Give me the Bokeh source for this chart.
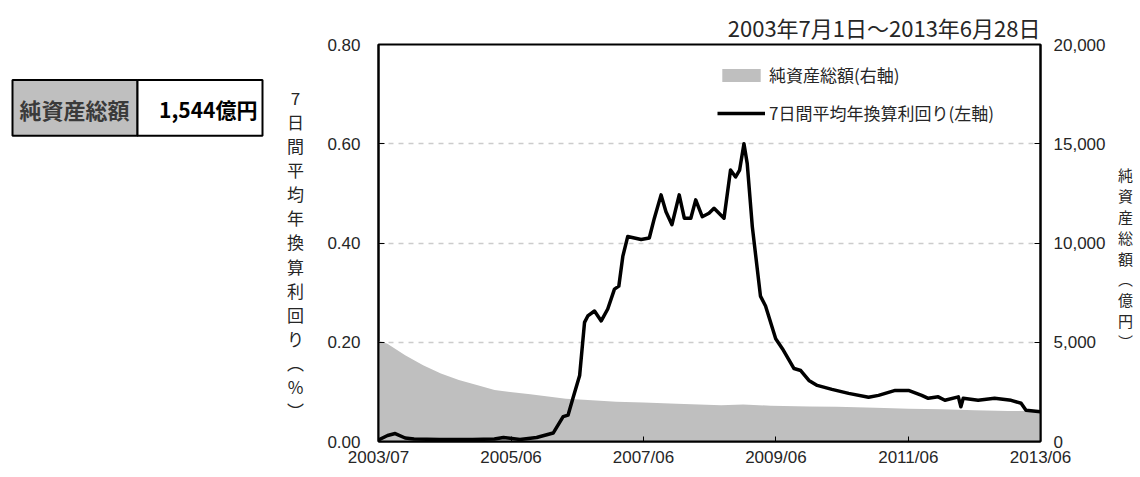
import pandas as pd
from bokeh.plotting import figure
from bokeh.models import Range1d, LinearAxis, FixedTicker, NumeralTickFormatter
from bokeh.layouts import row
from bokeh.core.properties import value
from bokeh.embed import file_html
from bokeh.resources import INLINE

# ---------------- data ----------------
title_text = "2003年7月1日～2013年6月28日"
box_label = "純資産総額"
box_value = "1,544億円"
left_axis_chars = ["7", "日", "間", "平", "均", "年", "換", "算", "利", "回", "り", "︵", "%", "︶"]
right_axis_chars = ["純", "資", "産", "総", "額", "︵", "億", "円", "︶"]
legend_assets = "純資産総額(右軸)"
legend_yield = "7日間平均年換算利回り(左軸)"

yield_dates = [
    "2003-07-01", "2003-08-20", "2003-10-01", "2003-11-25", "2004-01-13", "2004-06-01",
    "2004-12-01", "2005-03-31", "2005-05-20", "2005-08-19", "2005-11-19", "2006-02-18",
    "2006-04-14", "2006-05-11", "2006-06-07", "2006-07-14", "2006-08-10", "2006-08-28",
    "2006-10-04", "2006-11-10", "2006-12-16", "2007-01-22", "2007-02-15", "2007-03-09",
    "2007-04-05", "2007-05-12", "2007-06-18", "2007-08-02", "2007-08-30", "2007-10-06",
    "2007-11-02", "2007-12-05", "2008-01-14", "2008-02-11", "2008-03-18", "2008-04-14",
    "2008-05-20", "2008-06-26", "2008-07-24", "2008-09-17", "2008-10-23", "2008-11-20",
    "2008-12-12", "2009-01-05", "2009-01-23", "2009-02-20", "2009-04-06", "2009-05-04",
    "2009-06-29", "2009-08-05", "2009-10-08", "2009-11-14", "2009-12-29", "2010-02-13",
    "2010-05-05", "2010-08-05", "2010-11-23", "2011-01-17", "2011-04-19", "2011-07-01",
    "2011-09-12", "2011-10-18", "2011-12-12", "2012-01-18", "2012-04-01", "2012-04-15",
    "2012-04-28", "2012-07-19", "2012-10-18", "2013-01-17", "2013-03-13", "2013-04-09",
    "2013-06-28",
]
yield_values = [
    0.003, 0.012, 0.016, 0.007, 0.005, 0.004,
    0.004, 0.005, 0.008, 0.004, 0.008, 0.017,
    0.050, 0.053, 0.087, 0.133, 0.240, 0.253,
    0.263, 0.243, 0.267, 0.307, 0.313, 0.373,
    0.413, 0.410, 0.407, 0.410, 0.450, 0.497,
    0.463, 0.437, 0.497, 0.450, 0.450, 0.487,
    0.453, 0.460, 0.470, 0.450, 0.547, 0.533,
    0.547, 0.600, 0.560, 0.433, 0.293, 0.273,
    0.207, 0.187, 0.147, 0.143, 0.123, 0.113,
    0.105, 0.097, 0.089, 0.093, 0.103, 0.103,
    0.093, 0.087, 0.090, 0.083, 0.090, 0.070,
    0.087, 0.083, 0.087, 0.083, 0.077, 0.063,
    0.060,
]

asset_dates = [
    "2003-07-01", "2003-08-19", "2003-11-25", "2004-03-03", "2004-06-09", "2004-09-16",
    "2004-12-24", "2005-04-01", "2005-07-08", "2005-10-15", "2006-01-21", "2006-04-29",
    "2006-08-05", "2007-02-01", "2007-07-01", "2008-01-01", "2008-09-01", "2009-01-01",
    "2009-06-01", "2010-01-01", "2010-06-01", "2011-01-01", "2011-07-01", "2012-01-01",
    "2012-07-01", "2013-01-01", "2013-06-28",
]
asset_values = [
    5080, 4920, 4340, 3840, 3430, 3100,
    2850, 2600, 2480, 2380, 2270, 2150,
    2100, 2000, 1960, 1900, 1830, 1870,
    1800, 1760, 1750, 1700, 1650, 1620,
    1580, 1540, 1544,
]

x_start = "2003-07-01"
x_end = "2013-06-28"
x_tick_dates = ["2003-07-01", "2005-07-01", "2007-07-01", "2009-06-30", "2011-06-30", "2013-06-28"]
x_tick_labels = ["2003/07", "2005/06", "2007/06", "2009/06", "2011/06", "2013/06"]
left_ticks = [0.0, 0.2, 0.4, 0.6, 0.8]
right_ticks = [0, 5000, 10000, 15000, 20000]
grid_ticks = [0.2, 0.4, 0.6]

# ---------------- style ----------------
JP = "Noto Sans CJK JP"
NUM = "Liberation Sans"
AREA_COLOR = "#bfbfbf"
TXT = "#262626"
H = 470


def ms(d):
    return float(pd.Timestamp(d).value // 10**6)


yx = pd.to_datetime(yield_dates)
ax_ = pd.to_datetime(asset_dates)

# ---------------- main chart ----------------
p = figure(width=800, height=H, x_axis_type="datetime",
           x_range=Range1d(ms(x_start), ms(x_end)), y_range=Range1d(0, 0.8),
           output_backend="svg", toolbar_location=None,
           min_border_left=70, min_border_right=65, min_border_top=44, min_border_bottom=29)
p.extra_y_ranges = {"assets": Range1d(0, 20000)}
p.background_fill_color = "white"
p.border_fill_color = "white"
p.outline_line_color = "black"
p.outline_line_width = 2

p.varea(x=ax_, y1=0, y2=asset_values, y_range_name="assets",
        fill_color=AREA_COLOR, legend_label=legend_assets)
p.line(x=yx, y=yield_values, line_color="black", line_width=3.5,
       line_join="round", legend_label=legend_yield)

p.title.text = title_text
p.title.align = "right"
p.title.text_font = JP
p.title.text_font_size = "22px"
p.title.text_font_style = "normal"
p.title.text_color = TXT
p.title.standoff = 4

p.xgrid.visible = False
p.ygrid.ticker = FixedTicker(ticks=grid_ticks)
p.ygrid.grid_line_color = "#cccccc"
p.ygrid.grid_line_dash = "5 5"
p.ygrid.grid_line_width = 1.5

xa = p.xaxis[0]
xa.ticker = FixedTicker(ticks=[ms(d) for d in x_tick_dates])
xa.major_label_overrides = {ms(d): lab for d, lab in zip(x_tick_dates, x_tick_labels)}
xa.minor_tick_line_color = None
xa.major_tick_in = 5
xa.major_tick_out = 0
xa.major_label_standoff = 6
xa.major_label_text_font = NUM
xa.major_label_text_font_size = "17px"
xa.major_label_text_color = TXT
xa.axis_line_color = "black"
xa.axis_line_width = 2

ya = p.yaxis[0]
ya.ticker = FixedTicker(ticks=left_ticks)
ya.formatter = NumeralTickFormatter(format="0.00")
ya.minor_tick_line_color = None
ya.major_tick_in = 6
ya.major_tick_out = 0
ya.major_label_standoff = 18
ya.major_label_text_font = NUM
ya.major_label_text_font_size = "17px"
ya.major_label_text_color = TXT
ya.axis_line_color = "black"
ya.axis_line_width = 2

ra = LinearAxis(y_range_name="assets", ticker=FixedTicker(ticks=right_ticks),
                formatter=NumeralTickFormatter(format="0,0"))
ra.minor_tick_line_color = None
ra.major_tick_in = 6
ra.major_tick_out = 0
ra.major_label_standoff = 13
ra.major_label_text_font = NUM
ra.major_label_text_font_size = "17px"
ra.major_label_text_color = TXT
ra.axis_line_color = "black"
ra.axis_line_width = 2
p.add_layout(ra, "right")

leg = p.legend[0]
leg.location = (339, 316)
leg.background_fill_alpha = 0
leg.border_line_alpha = 0
leg.padding = 0
leg.margin = 0
leg.spacing = 13
leg.glyph_width = 48
leg.glyph_height = 16
leg.label_height = 20
leg.label_standoff = 4
leg.label_text_font = JP
leg.label_text_font_size = "17px"
leg.label_text_color = TXT

# ---------------- left panel: summary box + stacked axis title ----------------
lf = figure(width=308, height=H, x_range=Range1d(0, 308), y_range=Range1d(H, 0),
            x_axis_location=None, y_axis_location=None, title=None,
            output_backend="svg", toolbar_location=None, min_border=0)
lf.grid.visible = False
lf.outline_line_color = None
lf.background_fill_color = "white"
lf.border_fill_color = "white"
lf.quad(left=[12, 137], right=[137, 262], top=[42, 42], bottom=[108, 108],
        fill_color=[AREA_COLOR, "white"], line_color="black", line_width=2)
lf.text(x=[74], y=[76], text=[box_label], text_align="center", text_baseline="middle",
        text_font=value(JP), text_font_size="22px", text_font_style="bold", text_color="#3a3a3a")
lf.text(x=[257], y=[76], text=[box_value], text_align="right", text_baseline="middle",
        text_font=value(JP), text_font_size="21px", text_font_style="bold", text_color="black")
lf.text(x=[295], y=[48], text=["\n".join(left_axis_chars)], text_align="center",
        text_baseline="top", text_font=value(JP), text_font_size="17px",
        text_line_height=0.963, text_color=TXT)

# ---------------- right panel: stacked axis title ----------------
rf = figure(width=28, height=H, x_range=Range1d(0, 28), y_range=Range1d(H, 0),
            x_axis_location=None, y_axis_location=None, title=None,
            output_backend="svg", toolbar_location=None, min_border=0)
rf.grid.visible = False
rf.outline_line_color = None
rf.background_fill_color = "white"
rf.border_fill_color = "white"
rf.text(x=[17], y=[142], text=["\n".join(right_axis_chars)], text_align="center",
        text_baseline="top", text_font=value(JP), text_font_size="15px",
        text_line_height=0.99, text_color=TXT)

layout = row(lf, p, rf, spacing=0)
open("out.html", "w").write(file_html(layout, INLINE))
